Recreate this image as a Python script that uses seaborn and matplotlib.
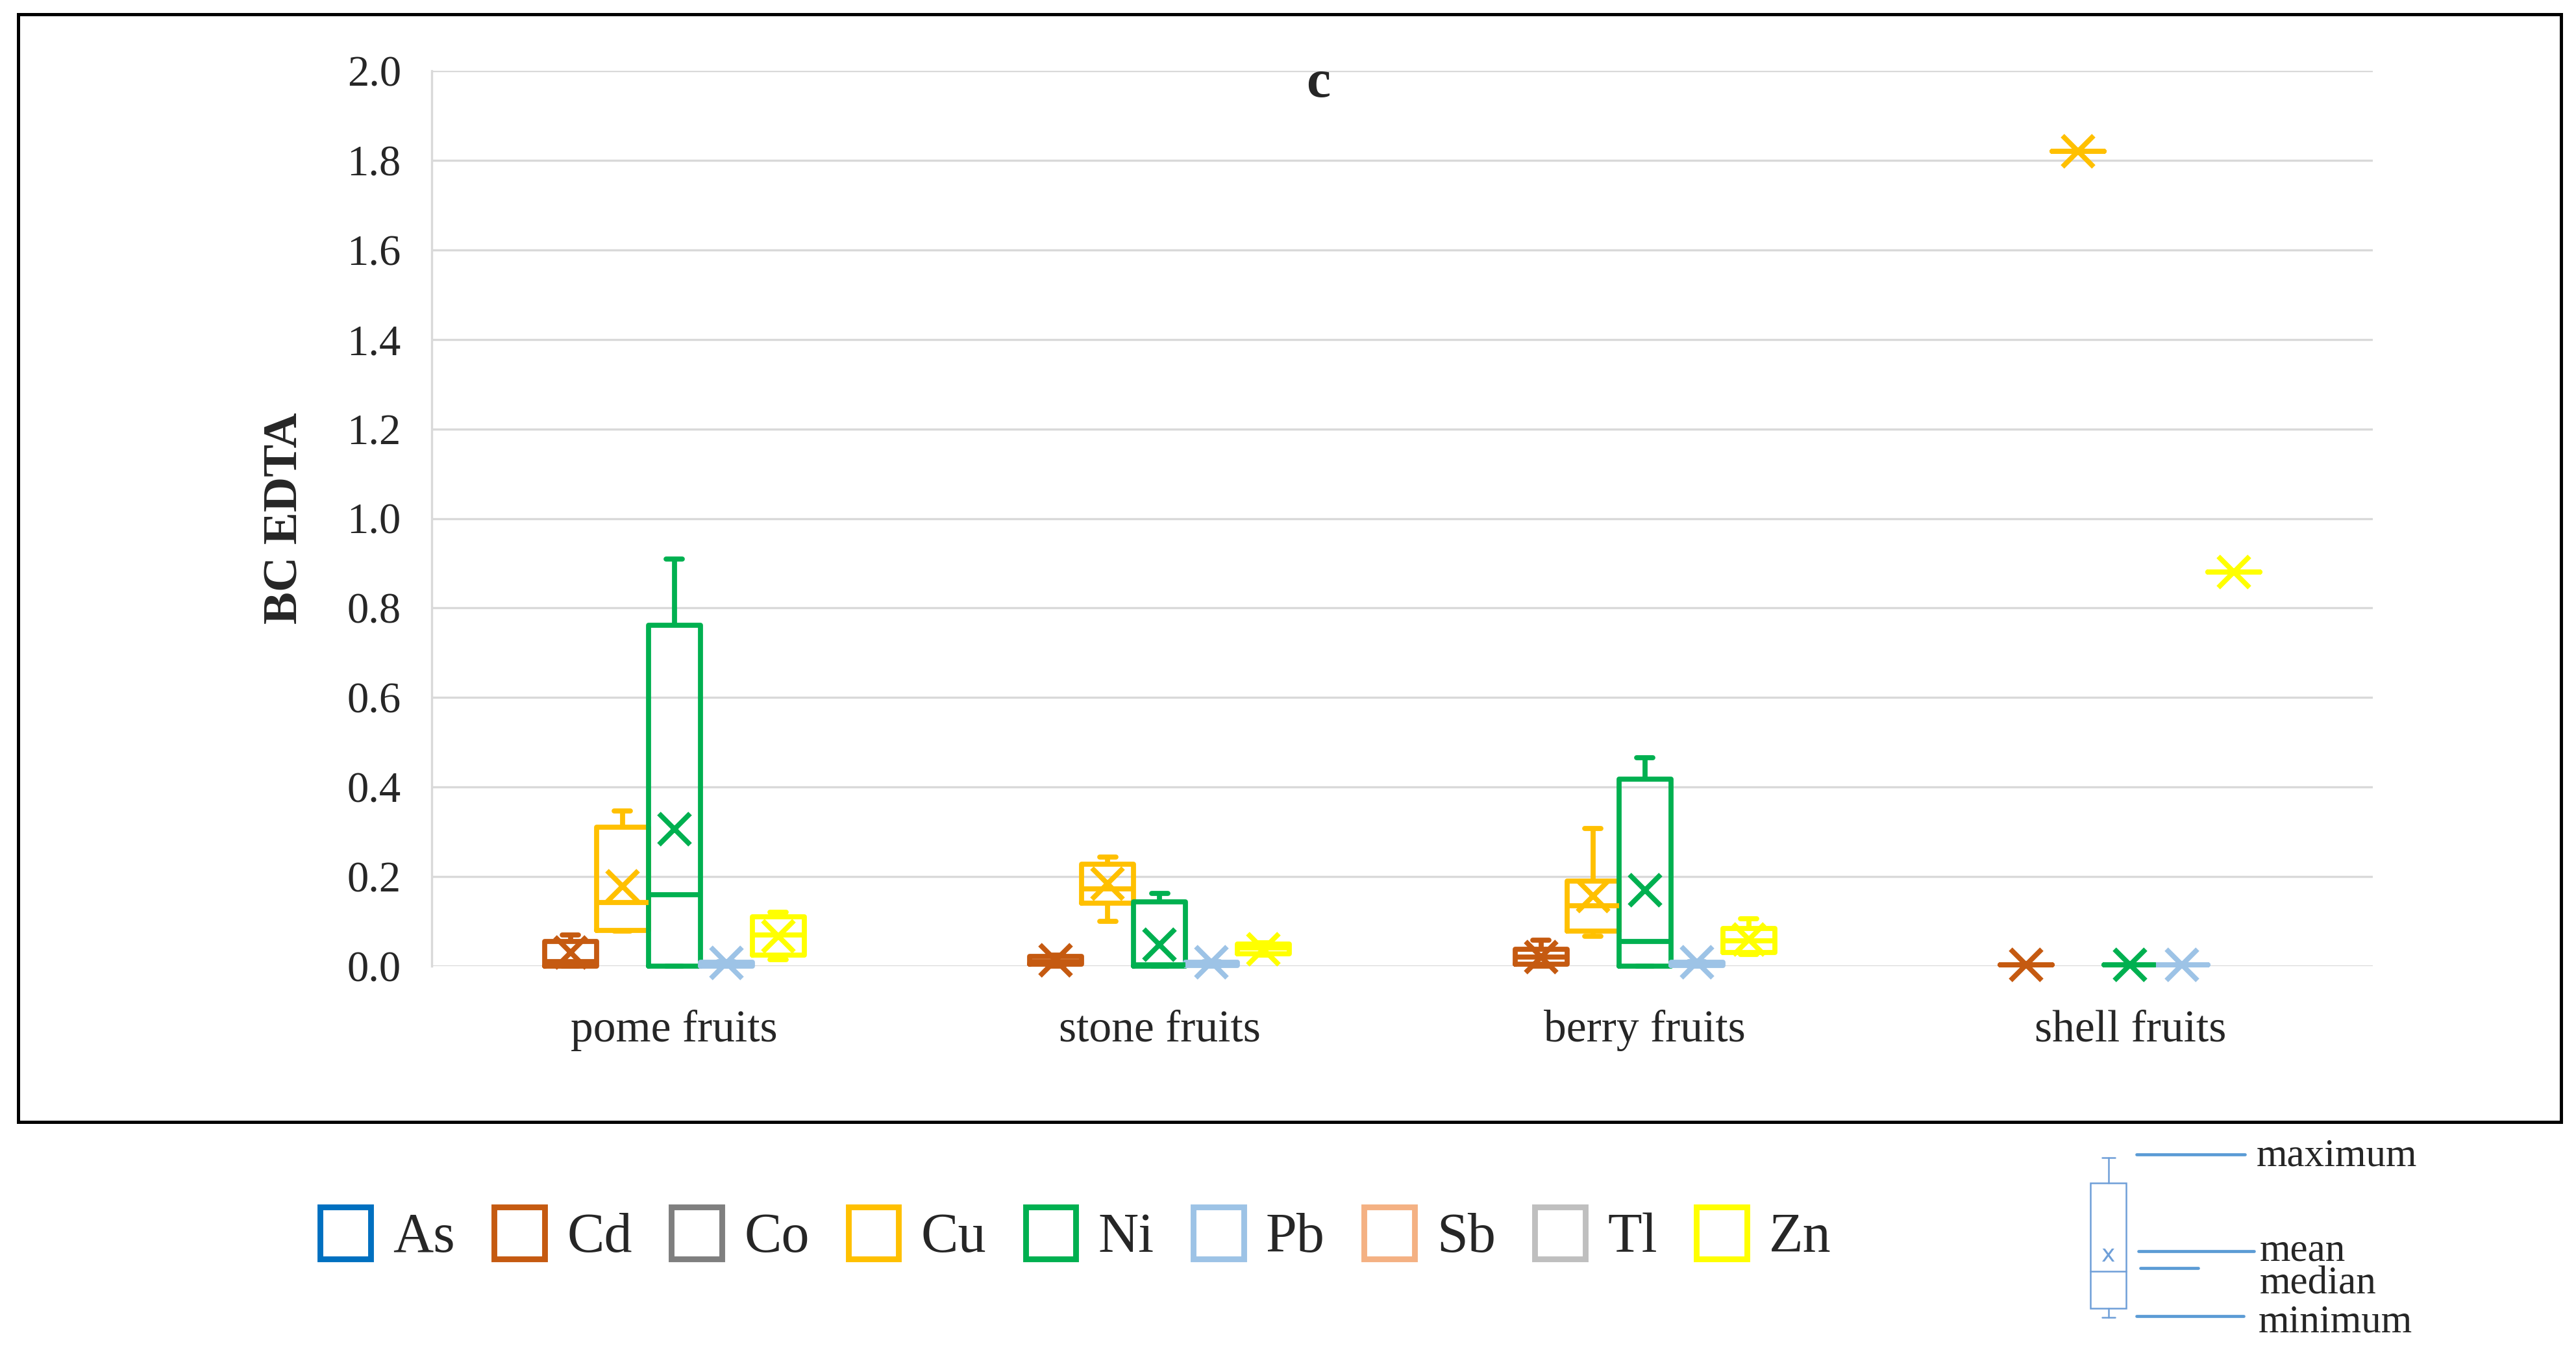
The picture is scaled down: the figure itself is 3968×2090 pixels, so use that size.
import numpy as np
import pandas as pd
import matplotlib
matplotlib.use("Agg")
import matplotlib.pyplot as plt
import matplotlib.patches as mpatches
from matplotlib.lines import Line2D
import seaborn as sns

sns.set_style("white")
plt.rcParams['font.family'] = ['Liberation Serif', 'DejaVu Serif']

# data (BC EDTA), rows = elements, columns = fruit groups
categories = ["pome fruits", "stone fruits", "berry fruits", "shell fruits"]
elements = ["Cd", "Cu", "Ni", "Pb", "Zn"]
legend_elements = ["As", "Cd", "Co", "Cu", "Ni", "Pb", "Sb", "Tl", "Zn"]
colors = {"As": "#0070C0", "Cd": "#C55A11", "Co": "#7F7F7F", "Cu": "#FFC000",
          "Ni": "#00B050", "Pb": "#9DC3E6", "Sb": "#F4B183", "Tl": "#BFBFBF",
          "Zn": "#FFFF00"}

minimum = [[0.000, 0.000, 0.000, 0.003],
           [0.078, 0.100, 0.067, 1.820],
           [0.000, 0.000, 0.000, 0.003],
           [0.000, 0.000, 0.000, 0.003],
           [0.015, 0.025, 0.026, 0.880]]
lower_quartile = [[0.000, 0.004, 0.004, 0.003],
                  [0.080, 0.140, 0.079, 1.820],
                  [0.000, 0.000, 0.000, 0.003],
                  [0.000, 0.002, 0.002, 0.003],
                  [0.025, 0.027, 0.031, 0.880]]
median = [[0.010, 0.010, 0.020, 0.003],
          [0.142, 0.172, 0.135, 1.820],
          [0.160, 0.003, 0.055, 0.003],
          [0.003, 0.005, 0.005, 0.003],
          [0.070, 0.040, 0.057, 0.880]]
upper_quartile = [[0.055, 0.022, 0.038, 0.003],
                  [0.310, 0.228, 0.190, 1.820],
                  [0.762, 0.144, 0.418, 0.003],
                  [0.008, 0.008, 0.008, 0.003],
                  [0.110, 0.050, 0.084, 0.880]]
maximum = [[0.070, 0.024, 0.058, 0.003],
           [0.346, 0.244, 0.308, 1.820],
           [0.909, 0.162, 0.466, 0.003],
           [0.010, 0.010, 0.010, 0.003],
           [0.120, 0.052, 0.106, 0.880]]
mean = [[0.030, 0.013, 0.021, 0.003],
        [0.179, 0.184, 0.157, 1.820],
        [0.306, 0.048, 0.169, 0.003],
        [0.007, 0.008, 0.008, 0.003],
        [0.066, 0.038, 0.060, 0.880]]

# five-number summaries -> long table (whiskers span min..max)
rows = []
for i, el in enumerate(elements):
    for j, cat in enumerate(categories):
        for stat in (minimum, lower_quartile, median, upper_quartile, maximum):
            rows.append({"category": cat, "element": el, "value": stat[i][j]})
df = pd.DataFrame(rows)
df_mean = pd.DataFrame([{"category": cat, "element": el, "value": mean[i][j]}
                        for i, el in enumerate(elements)
                        for j, cat in enumerate(categories)])

W, H = 3968, 2090
fig = plt.figure(figsize=(W / 200, H / 200), dpi=200)
ax = fig.add_axes([665 / W, 1 - 1488 / H, 2990 / W, 1379 / H])

pal = [colors[e] for e in elements]
box_width = 0.535
sns.boxplot(data=df, x="category", y="value", hue="element", order=categories,
            hue_order=elements, palette=pal, fill=False, width=box_width, gap=0,
            whis=(0, 100), linewidth=2.8, showfliers=False, legend=False, ax=ax)

# narrower whisker caps, like the Excel chart
cap_w = 0.5 * box_width / len(elements)
for ln in ax.lines:
    xd, yd = np.asarray(ln.get_xdata(), float), np.asarray(ln.get_ydata(), float)
    if len(xd) == 2 and yd[0] == yd[1] and abs(abs(xd[1] - xd[0]) - cap_w) < 1e-6:
        c = xd.mean()
        ln.set_xdata([c - 0.017, c + 0.017])

sns.pointplot(data=df_mean, x="category", y="value", hue="element", order=categories,
              hue_order=elements, palette=pal,
              dodge=box_width * (len(elements) - 1) / len(elements),
              marker="x", linestyle="none", markersize=17, markeredgewidth=2.8,
              errorbar=None, legend=False, ax=ax)

for ln in ax.lines:
    ln.set_clip_on(False)

ax.set_ylim(0, 2.0)
ax.set_xlim(-0.5, 3.5)
ax.set_yticks(np.arange(0, 2.01, 0.2))
ax.set_yticklabels([f"{v:.1f}" for v in np.arange(0, 2.01, 0.2)])
ax.yaxis.grid(True, color="#D9D9D9", linewidth=1.2)
ax.set_axisbelow(True)
for s in ["top", "right", "bottom"]:
    ax.spines[s].set_visible(False)
ax.spines["left"].set_color("#D9D9D9")
ax.spines["left"].set_linewidth(1.2)
ax.tick_params(axis="y", length=0, pad=17, labelsize=24)
ax.tick_params(axis="x", length=0, pad=24, labelsize=25)
ax.set_xlabel("")
ax.set_ylabel("BC EDTA", fontsize=27, fontweight="bold")
ax.yaxis.set_label_coords(-0.0639, 0.5)

fig.text(2031 / W, 1 - 130 / H, "c", fontsize=30, fontweight="bold",
         ha="center", va="center")

# outer frame
fig.patches.append(mpatches.Rectangle((28 / W, 1 - 1728 / H), 3917 / W, 1706 / H,
                                      transform=fig.transFigure, fill=False,
                                      edgecolor="black", linewidth=1.8))

# element legend
handles = [mpatches.Patch(facecolor="white", edgecolor=colors[e], linewidth=3.2, label=e)
           for e in legend_elements]
fig.legend(handles=handles, loc="center", bbox_to_anchor=(1657 / W, 1 - 1903 / H),
           ncol=9, frameon=False, fontsize=31, handlelength=0.9, handleheight=1.05,
           handletextpad=0.4, columnspacing=0.7)

# box-plot key (bottom right)
def fx(x):
    return x / W

def fy(y):
    return 1 - y / H

key_c = "#5B9BD5"
box_c = "#6F9FD8"
fig.patches.append(mpatches.Rectangle((fx(3220), fy(2015)), 55 / W, 193 / H,
                                      transform=fig.transFigure, fill=False,
                                      edgecolor=box_c, linewidth=0.9))
for seg in [((3248, 3248), (1783, 1822)), ((3238, 3258), (1783, 1783)),
            ((3248, 3248), (2015, 2029)), ((3238, 3258), (2029, 2029)),
            ((3220, 3275), (1958, 1958))]:
    fig.add_artist(Line2D([fx(v) for v in seg[0]], [fy(v) for v in seg[1]],
                          transform=fig.transFigure, color=box_c, linewidth=0.9))
fig.text(fx(3248), fy(1933), "x", fontsize=13, color=box_c, ha="center", va="center",
         family="DejaVu Sans")
for x0, x1, y in [(3291, 3458, 1778), (3294, 3472, 1927), (3297, 3386, 1953),
                  (3291, 3456, 2027)]:
    fig.add_artist(Line2D([fx(x0), fx(x1)], [fy(y), fy(y)], transform=fig.transFigure,
                          color=key_c, linewidth=1.7))
for txt, x, y in [("maximum", 3476, 1795), ("mean", 3481, 1941),
                  ("median", 3481, 1992), ("minimum", 3479, 2052)]:
    fig.text(fx(x), fy(y), txt, fontsize=22, ha="left", va="baseline")

fig.savefig("out.png", dpi=200, facecolor="white")
